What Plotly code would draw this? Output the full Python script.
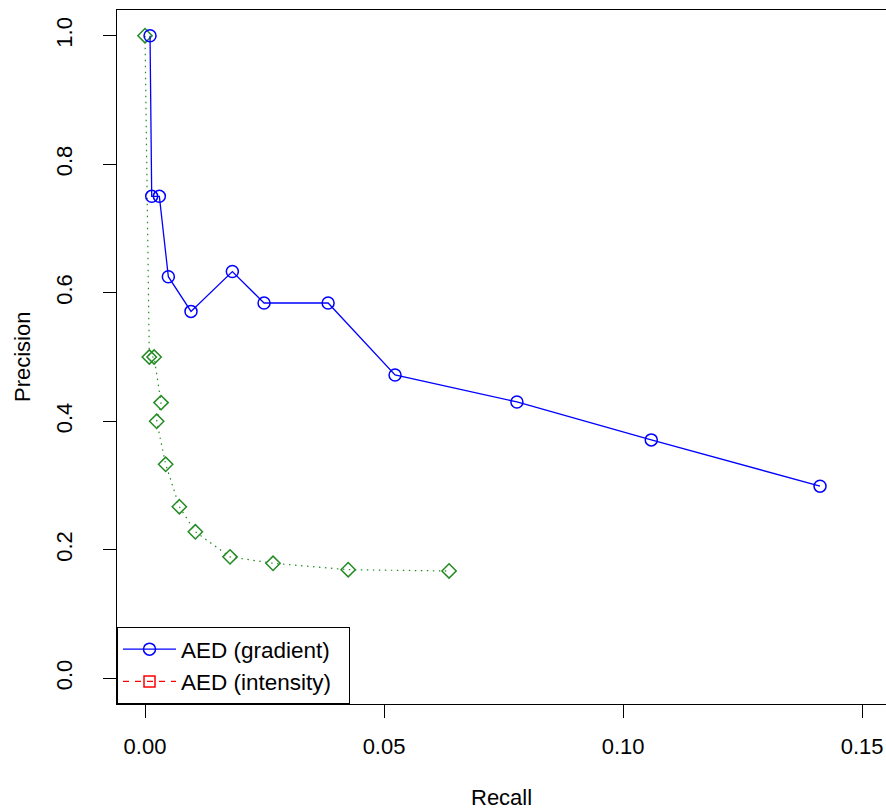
import plotly.graph_objects as go

# AED (gradient) series
grad_recall = [0.00105, 0.0014, 0.0030, 0.00488, 0.00962, 0.01827, 0.0249, 0.0383, 0.0523, 0.0778, 0.1059, 0.1412]
grad_precision = [1.0, 0.75, 0.75, 0.625, 0.571, 0.633, 0.584, 0.584, 0.472, 0.430, 0.371, 0.299]

# second (green) series
green_recall = [0.0, 0.0009, 0.0019, 0.00335, 0.00244, 0.00432, 0.00718, 0.01053, 0.01778, 0.02678, 0.0425, 0.0636]
green_precision = [1.0, 0.5, 0.5, 0.429, 0.4, 0.333, 0.267, 0.228, 0.189, 0.179, 0.169, 0.167]

x_ticks = [0.0, 0.05, 0.10, 0.15]
x_tick_labels = ["0.00", "0.05", "0.10", "0.15"]
y_ticks = [0.0, 0.2, 0.4, 0.6, 0.8, 1.0]
y_tick_labels = ["0.0", "0.2", "0.4", "0.6", "0.8", "1.0"]

FONT = "Liberation Sans, Arial, Helvetica, sans-serif"

fig = go.Figure()

fig.add_trace(go.Scatter(
    x=green_recall, y=green_precision, mode="lines+markers",
    line=dict(color="#228B22", width=1.2, dash="1.5px,4.5px"),
    marker=dict(symbol="diamond-open", size=11, color="#228B22", line=dict(width=1.5)),
    showlegend=False, name="green"))

fig.add_trace(go.Scatter(
    x=grad_recall, y=grad_precision, mode="lines+markers",
    line=dict(color="#0000FF", width=1.3),
    marker=dict(symbol="circle-open", size=12, color="#0000FF", line=dict(width=1.5)),
    name="AED (gradient)"))

fig.add_trace(go.Scatter(
    x=[None], y=[None], mode="lines+markers",
    line=dict(color="#FF0000", width=1.3, dash="6px,6px"),
    marker=dict(symbol="square-open", size=11, color="#FF0000", line=dict(width=1.5)),
    name="AED (intensity)\u00a0\u00a0"))

fig.update_layout(
    width=886, height=811,
    margin=dict(l=117, r=0, t=10, b=107),
    paper_bgcolor="white", plot_bgcolor="white",
    font=dict(family=FONT, size=22, color="black"),
    legend=dict(x=0, y=0, xanchor="left", yanchor="bottom",
                bgcolor="white", bordercolor="black", borderwidth=1,
                font=dict(size=22.5), tracegroupgap=0, itemwidth=53),
    xaxis=dict(range=[-0.00586, 0.1550], tickvals=x_ticks, ticktext=x_tick_labels,
               ticks="outside", ticklen=13, tickwidth=1, tickcolor="black",
               showline=True, mirror=True, linecolor="black", linewidth=1,
               showgrid=False, zeroline=False, ticklabelstandoff=10),
    yaxis=dict(range=[-0.04, 1.04], tickvals=y_ticks, ticktext=y_tick_labels,
               ticks="outside", ticklen=13, tickwidth=1, tickcolor="black",
               showline=True, mirror=False, linecolor="black", linewidth=1,
               showgrid=False, zeroline=False, tickangle=-90, ticklabelstandoff=22),
    annotations=[
        dict(text="Recall", xref="paper", yref="paper", x=0.5, y=0, yshift=-93,
             xanchor="center", yanchor="middle", showarrow=False, font=dict(size=22)),
        dict(text="Precision", xref="paper", yref="paper", x=0, y=0.5, xshift=-95,
             xanchor="center", yanchor="middle", textangle=-90, showarrow=False,
             font=dict(size=22)),
    ],
)

fig.write_html("out.html")
